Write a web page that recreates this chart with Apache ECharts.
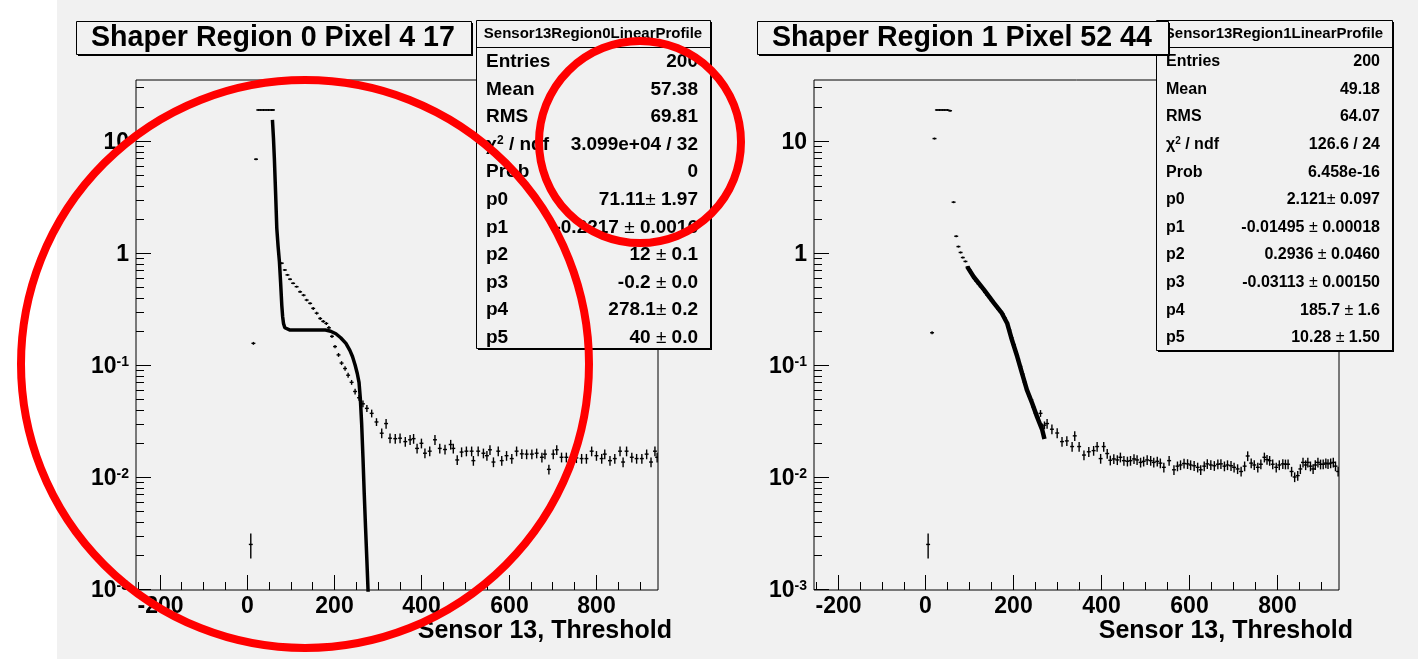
<!DOCTYPE html>
<html><head><meta charset="utf-8">
<script src="https://cdn.jsdelivr.net/npm/echarts@6/dist/echarts.min.js"></script>
<style>html,body{margin:0;padding:0;background:#f1f1f1;}#c{width:1418px;height:659px;}</style>
</head><body><div id="c"></div>
<script>
// ---------- data ----------
const xMajorTicks = [-200, 0, 200, 400, 600, 800];
const xTickLabels = ['-200', '0', '200', '400', '600', '800'];
const xMinorTicks = [-250, -150, -100, -50, 50, 100, 150, 250, 300, 350, 450, 500, 550, 650, 700, 750, 850, 900];
const yMajorTicks = [0.001, 0.01, 0.1, 1, 10];
const yTickBase = ['10', '10', '10', '1', '10'];
const yTickExp = ['-3', '-2', '-1', '', ''];
const yMinorTicks = [0.002,0.003,0.004,0.005,0.006,0.007,0.008,0.009,
  0.02,0.03,0.04,0.05,0.06,0.07,0.08,0.09,
  0.2,0.3,0.4,0.5,0.6,0.7,0.8,0.9,
  2,3,4,5,6,7,8,9,20,30];

// profile points: [threshold, value, relative error]
const leftPoints = [
  [9,0.0025,0.25],[15,0.156,0.03],[21,6.87,0.02],
  [26,18.9,0],[32,18.9,0],[38,18.9,0],[44,18.9,0],[50,18.9,0],[56,18.9,0],[60,18.9,0],
  [80,0.81,0.02],[87,0.705,0.02],[93,0.637,0.02],[99,0.583,0.02],[106,0.536,0.02],[114,0.50,0.02],
  [122,0.45,0.025],[130,0.42,0.025],[137,0.38,0.025],[145,0.355,0.025],[152,0.32,0.03],[160,0.29,0.03],
  [168,0.26,0.03],[175,0.245,0.03],[182,0.235,0.03],[188,0.215,0.035],[195,0.18,0.035],[202,0.146,0.035],
  [210,0.123,0.04],[217,0.104,0.04],[225,0.093,0.045],[232,0.081,0.05],[240,0.07,0.05],[248,0.058,0.06],
  [257,0.051,0.06],[266,0.045,0.07],[275,0.041,0.07],[286,0.037,0.08],[297,0.031,0.08],[309,0.0246,0.1],
  [319,0.030,0.1],[328,0.0222,0.1],[340,0.022,0.1],[351,0.0222,0.1],[363,0.0207,0.1],[374,0.0215,0.1],
  [382,0.022,0.1],[390,0.018,0.1],[400,0.020,0.1],[408,0.0163,0.1],[419,0.017,0.1],[431,0.0215,0.1],
  [442,0.018,0.1],[454,0.0176,0.1],[467,0.0195,0.1],[473,0.018,0.1],[482,0.0142,0.1],[492,0.0167,0.1],
  [503,0.017,0.1],[515,0.017,0.1],[519,0.014,0.1],[530,0.017,0.1],[542,0.0163,0.1],[550,0.0155,0.1],
  [557,0.0175,0.1],[565,0.0136,0.1],[576,0.017,0.1],[584,0.014,0.1],[595,0.0155,0.1],[607,0.0146,0.1],
  [618,0.017,0.1],[630,0.0161,0.1],[641,0.016,0.1],[653,0.016,0.1],[664,0.0163,0.1],[676,0.015,0.1],
  [683,0.016,0.1],[692,0.0117,0.1],[702,0.016,0.1],[710,0.0175,0.1],[721,0.015,0.1],[732,0.015,0.1],
  [746,0.0133,0.1],[755,0.0148,0.1],[767,0.0146,0.1],[778,0.0146,0.1],[790,0.017,0.1],[801,0.0155,0.1],
  [813,0.0146,0.1],[820,0.016,0.1],[832,0.014,0.1],[843,0.0146,0.1],[855,0.017,0.1],[862,0.0136,0.1],
  [870,0.017,0.1],[882,0.015,0.1],[893,0.0146,0.1],[905,0.0146,0.1],[916,0.016,0.1],[926,0.0136,0.1],
  [935,0.017,0.1],[940,0.015,0.1]
];
const leftFit = [
  [58.6,15.4],[61,10.5],[63,7.0],[66,3.3],[68.6,1.66],[71.5,1.15],[74.6,0.836],[77.5,0.53],[80,0.343],
  [82,0.27],[84,0.235],[87,0.215],[91,0.207],[99,0.205],[140,0.205],[180,0.205],[192,0.2],[204,0.19],
  [215,0.175],[227,0.156],[236,0.135],[242,0.119],[248,0.1],[253,0.084],[257,0.07],[260,0.05],[263,0.03],
  [266,0.015],[269,0.007],[272,0.0035],[275,0.0018],[278,0.0009]
];
const rightPoints = [
  [6,0.0025,0.25],[15,0.194,0.03],[20.5,10.5,0.02],
  [26,18.9,0],[32,18.9,0],[38,18.9,0],[44,18.9,0],[50,18.9,0],[56,18.6,0],
  [64,2.84,0.02],[70,1.41,0.02],[75,1.14,0.02],[80,1.01,0.02],[85,0.91,0.02],[91,0.84,0.02],
  [96,0.75,0.02],[101,0.70,0.02],[106,0.65,0.02],[111,0.60,0.02],[116,0.56,0.02],[121,0.53,0.02],
  [126,0.50,0.02],[131,0.475,0.02],[136,0.445,0.02],[141,0.42,0.02],[146,0.40,0.02],[151,0.375,0.02],
  [156,0.356,0.02],[161,0.335,0.02],[166,0.315,0.02],[171,0.30,0.02],[176,0.285,0.02],[181,0.262,0.02],
  [186,0.236,0.025],[191,0.205,0.025],[196,0.175,0.025],[201,0.152,0.025],[206,0.13,0.03],[211,0.113,0.03],
  [216,0.097,0.03],[221,0.083,0.03],[226,0.07,0.04],[231,0.060,0.04],[236,0.053,0.05],[241,0.049,0.05],
  [246,0.042,0.05],[251,0.037,0.06],[256,0.034,0.06],[262,0.037,0.07],[266,0.028,0.07],[271,0.029,0.08],
  [277,0.030,0.1],[288,0.0267,0.1],[300,0.0247,0.1],[311,0.0207,0.1],[322,0.021,0.1],[334,0.0187,0.1],
  [340,0.0233,0.1],[350,0.0187,0.1],[361,0.0157,0.1],[372,0.0168,0.1],[383,0.0172,0.1],[391,0.0187,0.1],
  [399,0.0146,0.1],[406,0.0187,0.1],[414,0.0162,0.1],[421,0.0141,0.1],[429,0.0145,0.1],[437,0.0142,0.1],
  [444,0.015,0.1],[452,0.014,0.1],[460,0.0138,0.1],[467,0.014,0.1],[475,0.0145,0.1],[482,0.0142,0.1],
  [490,0.0135,0.1],[497,0.0138,0.1],[505,0.0142,0.1],[513,0.014,0.1],[520,0.0135,0.1],[528,0.0138,0.1],
  [535,0.0133,0.1],[543,0.0122,0.1],[555,0.014,0.1],[566,0.0116,0.1],[574,0.0125,0.1],[581,0.0128,0.1],
  [589,0.0132,0.1],[597,0.0131,0.1],[604,0.0128,0.1],[612,0.0126,0.1],[620,0.0122,0.1],[627,0.0116,0.1],
  [635,0.0125,0.1],[642,0.0131,0.1],[650,0.0128,0.1],[658,0.0126,0.1],[666,0.013,0.1],[673,0.0131,0.1],
  [681,0.0125,0.1],[688,0.0128,0.1],[696,0.0126,0.1],[703,0.0122,0.1],[711,0.0118,0.1],[719,0.0112,0.1],
  [727,0.0125,0.1],[734,0.0154,0.1],[742,0.0133,0.1],[749,0.0128,0.1],[757,0.0122,0.1],[764,0.013,0.1],
  [772,0.015,0.1],[778,0.0143,0.1],[784,0.014,0.1],[791,0.013,0.1],[799,0.0122,0.1],[806,0.0128,0.1],
  [814,0.0131,0.1],[820,0.013,0.1],[826,0.013,0.1],[834,0.0112,0.1],[841,0.010,0.1],[848,0.0103,0.1],
  [854,0.0118,0.1],[860,0.0135,0.1],[866,0.0128,0.1],[871,0.0135,0.1],[877,0.0125,0.1],[883,0.0118,0.1],
  [888,0.0128,0.1],[894,0.0135,0.1],[900,0.013,0.1],[906,0.013,0.1],[912,0.0133,0.1],[917,0.0131,0.1],
  [923,0.0133,0.1],[929,0.0135,0.1],[934,0.0125,0.1],[940,0.0112,0.1]
];
const rightFit = [
  [95,0.755],[110,0.61],[133,0.47],[156,0.356],[174,0.29],[186,0.236],[197,0.167],[209,0.119],
  [220,0.084],[231,0.06],[243,0.0455],[254,0.0346],[266,0.0263],[271,0.0218]
];

const titles = ['Shaper Region 0 Pixel 4 17', 'Shaper Region 1 Pixel 52 44'];
const statHeaders = ['Sensor13Region0LinearProfile', 'Sensor13Region1LinearProfile'];
const statLabels = ['Entries','Mean','RMS','χ{s|2} / ndf','Prob','p0','p1','p2','p3','p4','p5'];
const leftStats = ['200','57.38','69.81','3.099e+04 / 32','0','71.11{pm|±} 1.97','-0.2217 {pm|±} 0.0016',
  '12 {pm|±} 0.1','-0.2 {pm|±} 0.0','278.1{pm|±} 0.2','40 {pm|±} 0.0'];
const rightStats = ['200','49.18','64.07','126.6 / 24','6.458e-16','2.121{pm|±} 0.097','-0.01495 {pm|±} 0.00018',
  '0.2936 {pm|±} 0.0460','-0.03113 {pm|±} 0.00150','185.7 {pm|±} 1.6','10.28 {pm|±} 1.50'];
const axisTitle = 'Sensor 13, Threshold';

// ---------- layout / style ----------
const X_MIN = -254, X_MAX = 942, Y_MIN = 0.00098, Y_MAX = 35;
const HW = 4.5;
const BG = '#f1f1f1';
const FONT = '"Liberation Sans", Arial, Helvetica, sans-serif';

const chart = echarts.init(document.getElementById('c'));

function tickSeries(g) {
  const base = {type:'custom', xAxisIndex:g, yAxisIndex:g, silent:true, clip:false, z:6, animation:false};
  const line = (x1,y1,x2,y2)=>({type:'line', shape:{x1,y1,x2,y2}, style:{stroke:'#000', lineWidth:1}});
  return [
    Object.assign({}, base, {data: xMajorTicks.map(v=>[v, Y_MIN]), renderItem(params, api){
      const cs = params.coordSys, yb = cs.y + cs.height;
      const px = Math.round(api.coord([api.value(0), Y_MIN])[0]) + 0.5;
      return {type:'group', children:[line(px,yb,px,yb-15),
        {type:'text', style:{text:xTickLabels[params.dataIndex], x:px, y:yb+17, align:'center', verticalAlign:'middle',
          font:'bold 23px '+FONT, fill:'#000'}}]};
    }}),
    Object.assign({}, base, {data: xMinorTicks.map(v=>[v, Y_MIN]), renderItem(params, api){
      const cs = params.coordSys, yb = cs.y + cs.height;
      const px = Math.round(api.coord([api.value(0), Y_MIN])[0]) + 0.5;
      return line(px,yb,px,yb-8);
    }}),
    Object.assign({}, base, {data: yMajorTicks.map(v=>[X_MIN, v]), renderItem(params, api){
      const cs = params.coordSys, xl = cs.x;
      const py = Math.round(api.coord([X_MIN, api.value(1)])[1]) + 0.5;
      const i = params.dataIndex;
      const txt = yTickBase[i] + (yTickExp[i] ? '{s|' + yTickExp[i] + '}' : '');
      return {type:'group', children:[line(xl,py,xl+15,py),
        {type:'text', style:{text:txt, x:xl-7, y:py+1, align:'right', verticalAlign:'middle',
          font:'bold 23px '+FONT, fill:'#000',
          rich:{s:{font:'bold 14px '+FONT, verticalAlign:'top', fill:'#000'}}}}]};
    }}),
    Object.assign({}, base, {data: yMinorTicks.map(v=>[X_MIN, v]), renderItem(params, api){
      const xl = params.coordSys.x;
      const py = Math.round(api.coord([X_MIN, api.value(1)])[1]) + 0.5;
      return line(xl,py,xl+8,py);
    }})
  ];
}

function pointSeries(g, pts) {
  return {type:'custom', xAxisIndex:g, yAxisIndex:g, silent:true, clip:true, z:3, animation:false,
    data: pts,
    renderItem(params, api){
      const x = api.value(0), y = api.value(1), e = api.value(2);
      const c = api.coord([x, y]);
      const l = api.coord([x - HW, y]), r = api.coord([x + HW, y]);
      const hi = api.coord([x, y * (1 + e)]), lo = api.coord([x, y * (1 - e)]);
      const st = {stroke:'#000', lineWidth:1.4};
      return {type:'group', children:[
        {type:'line', shape:{x1:l[0], y1:c[1], x2:r[0], y2:c[1]}, style:st},
        {type:'line', shape:{x1:c[0], y1:Math.min(hi[1], c[1]-1), x2:c[0], y2:Math.max(lo[1], c[1]+1)}, style:st}
      ]};
    }};
}

function fitSeries(g, pts, w) {
  return {type:'line', xAxisIndex:g, yAxisIndex:g, data:pts, showSymbol:false, symbol:'none', silent:true,
    clip:true, z:4, animation:false, lineStyle:{color:'#000', width:w}};
}

function statsBox(x, y, w, h, header, values, fs, hfs) {
  const els = [];
  els.push({type:'rect', z:10, shape:{x:x+2, y:y+2, width:w, height:h}, style:{fill:'#000'}});
  els.push({type:'rect', z:11, shape:{x:x+0.5, y:y+0.5, width:w, height:h}, style:{fill:BG, stroke:'#000', lineWidth:1}});
  els.push({type:'line', z:12, shape:{x1:x, y1:y+27.5, x2:x+w, y2:y+27.5}, style:{stroke:'#000', lineWidth:1}});
  els.push({type:'text', z:12, style:{text:header, x:x+w/2, y:y+13.5, align:'center', verticalAlign:'middle',
    textAlign:'center', textVerticalAlign:'middle', font:'bold '+hfs+'px '+FONT, fill:'#000'}});
  for (let i = 0; i < statLabels.length; i++) {
    const ry = y + 41.7 + 27.6 * i;
    els.push({type:'text', z:12, style:{text:statLabels[i], x:x+10, y:ry, align:'left', verticalAlign:'middle',
      textAlign:'left', textVerticalAlign:'middle', font:'bold '+fs+'px '+FONT, fill:'#000',
      rich:{s:{font:'bold '+Math.round(fs*0.65)+'px '+FONT, verticalAlign:'top', fill:'#000'}}}});
    els.push({type:'text', z:12, style:{text:values[i], x:x+w-12, y:ry, align:'right', verticalAlign:'middle',
      textAlign:'right', textVerticalAlign:'middle', font:'bold '+fs+'px '+FONT, fill:'#000',
      rich:{pm:{font:fs+'px '+FONT, fill:'#000'}}}});
  }
  return els;
}

function titleBox(x, y, w, h, text) {
  return [
    {type:'rect', z:14, shape:{x:x+2, y:y+2, width:w, height:h}, style:{fill:'#000'}},
    {type:'rect', z:15, shape:{x:x+0.5, y:y+0.5, width:w, height:h}, style:{fill:BG, stroke:'#000', lineWidth:1}},
    {type:'text', z:16, style:{text:text, x:x+15, y:y+h/2+1, align:'left', verticalAlign:'middle',
      textAlign:'left', textVerticalAlign:'middle', font:'bold 28.6px '+FONT, fill:'#000'}}
  ];
}

const graphics = [].concat(
  [{type:'rect', z:-5, shape:{x:0, y:0, width:57, height:659}, style:{fill:'#ffffff'}}],
  statsBox(476, 20, 234, 328, statHeaders[0], leftStats, 19, 15),
  statsBox(1156, 20, 236, 330, statHeaders[1], rightStats, 16, 15),
  titleBox(76, 21, 395, 33, titles[0]),
  titleBox(757, 21, 411, 33, titles[1]),
  [
    {type:'text', z:12, style:{text:axisTitle, x:672, y:631, align:'right', verticalAlign:'middle',
      textAlign:'right', textVerticalAlign:'middle', font:'bold 25px '+FONT, fill:'#000'}},
    {type:'text', z:12, style:{text:axisTitle, x:1353, y:631, align:'right', verticalAlign:'middle',
      textAlign:'right', textVerticalAlign:'middle', font:'bold 25px '+FONT, fill:'#000'}},
    {type:'circle', z:30, shape:{cx:305, cy:364, r:284}, style:{fill:'none', stroke:'#ff0000', lineWidth:8}},
    {type:'circle', z:30, shape:{cx:640, cy:142, r:101}, style:{fill:'none', stroke:'#ff0000', lineWidth:8}}
  ]
);

function xAx(g){ return {type:'value', gridIndex:g, min:X_MIN, max:X_MAX, axisLine:{show:false}, axisTick:{show:false},
  axisLabel:{show:false}, splitLine:{show:false}}; }
function yAx(g){ return {type:'log', logBase:10, gridIndex:g, min:Y_MIN, max:Y_MAX, axisLine:{show:false}, axisTick:{show:false},
  axisLabel:{show:false}, splitLine:{show:false}, minorTick:{show:false}, minorSplitLine:{show:false}}; }

chart.setOption({
  backgroundColor: BG,
  animation: false,
  grid: [
    {left:136, top:80, width:522, height:510, show:true, borderColor:'#000', borderWidth:1, backgroundColor:'transparent', containLabel:false, outerBoundsMode:'none'},
    {left:814, top:80, width:525, height:510, show:true, borderColor:'#000', borderWidth:1, backgroundColor:'transparent', containLabel:false, outerBoundsMode:'none'}
  ],
  xAxis: [xAx(0), xAx(1)],
  yAxis: [yAx(0), yAx(1)],
  graphic: graphics,
  series: [].concat(
    tickSeries(0), tickSeries(1),
    [pointSeries(0, leftPoints), pointSeries(1, rightPoints), fitSeries(0, leftFit, 3.5), fitSeries(1, rightFit, 4.5)]
  )
});
</script>
</body></html>
